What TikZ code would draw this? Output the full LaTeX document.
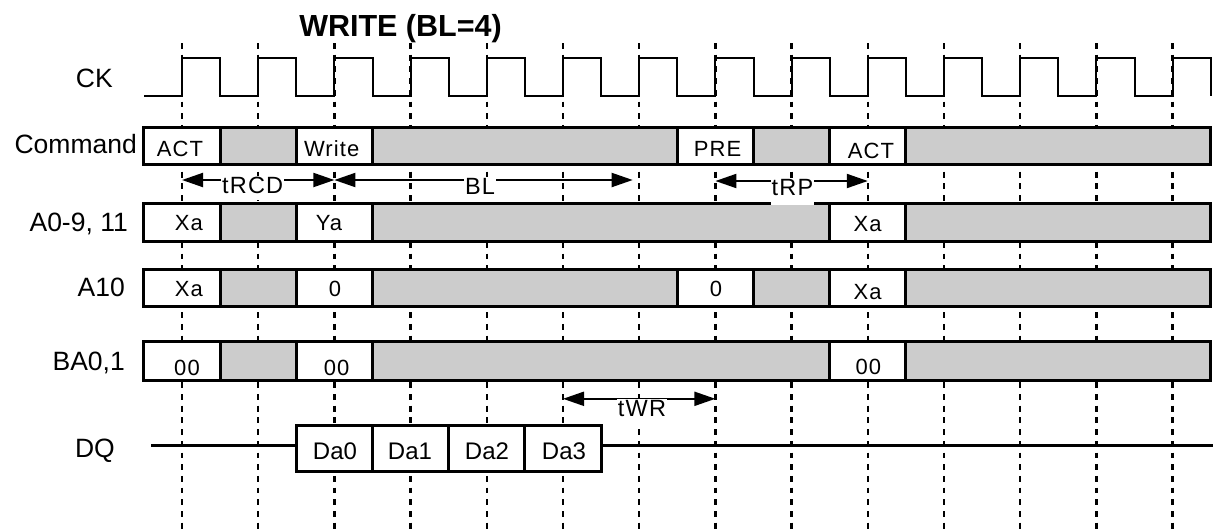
\documentclass[tikz,border=0pt]{standalone}
\usepackage{fontspec}
\setmainfont{Liberation Sans}
\newfontfamily\spacedfont[LetterSpace=5]{Liberation Sans}
\usetikzlibrary{arrows.meta}
\definecolor{cellgrey}{RGB}{204,204,204}
\tikzset{
  gridline/.style={black,line width=2.4pt,dash pattern=on 5.8pt off 5.9pt},
  clockline/.style={black,line width=2pt},
  dqline/.style={black,line width=3pt},
  cellbox/.style={draw=black,line width=3pt},
  rowlabel/.style={anchor=base east,inner sep=0pt,font=\fontsize{26.5}{30}\selectfont},
  celltext/.style={anchor=base,inner sep=0pt,font=\spacedfont\fontsize{22}{26}\selectfont},
  datatext/.style={anchor=base,inner sep=0pt,font=\fontsize{24}{28}\selectfont},
  timing/.style={black,line width=2pt,{Triangle[length=21pt,width=14pt]}-{Triangle[length=21pt,width=14pt]}},
  timelabel/.style={anchor=base,fill=white,inner sep=1pt,text depth=6pt,font=\spacedfont\fontsize{23.5}{26}\selectfont},
}
\begin{document}
\begin{tikzpicture}[x=1pt,y=-1pt]
\useasboundingbox (0,0) rectangle (1213,531);
\def\per{76.2}
% grid lines at the rising edges:
\foreach \k in {0,...,13}
  \draw[gridline] ({182+\k*\per},43) -- ({182+\k*\per},531);
% clock:
\draw[clockline] (144,96)
  \foreach \k in {0,...,13} {
    -- ({182+\k*\per},96) -- ({182+\k*\per},58)
    -- ({220.1+\k*\per},58) -- ({220.1+\k*\per},96)};
% title and row labels:
\node[anchor=base,inner sep=0pt,font=\bfseries\fontsize{30.5}{34}\selectfont] (title) at (400.5,36.7) {WRITE (BL=4)};
\node[rowlabel] (lab-ck) at (113,87.3) {CK};
\node[rowlabel] (lab-cmd) at (137,153) {Command};
\node[rowlabel] (lab-addr) at (128,231.7) {A0-9, 11};
\node[rowlabel] (lab-a10) at (125,296) {A10};
\node[rowlabel] (lab-ba) at (125,370) {BA0,1};
\node[rowlabel] (lab-dq) at (115,457) {DQ};
% bus rows:
\foreach \a/\b/\f in {0/1/white,1/2/cellgrey,2/3/white,3/7/cellgrey,7/8/white,8/9/cellgrey,9/10/white,10/14/cellgrey}
  \path[cellbox,fill=\f] ({143.9+\a*\per},127.7) rectangle ({143.9+\b*\per},164.2);
\foreach \a/\b/\f in {0/1/white,1/2/cellgrey,2/3/white,3/9/cellgrey,9/10/white,10/14/cellgrey}
  \path[cellbox,fill=\f] ({143.9+\a*\per},203.2) rectangle ({143.9+\b*\per},241.3);
\foreach \a/\b/\f in {0/1/white,1/2/cellgrey,2/3/white,3/7/cellgrey,7/8/white,8/9/cellgrey,9/10/white,10/14/cellgrey}
  \path[cellbox,fill=\f] ({143.9+\a*\per},269.2) rectangle ({143.9+\b*\per},306.3);
\foreach \a/\b/\f in {0/1/white,1/2/cellgrey,2/3/white,3/9/cellgrey,9/10/white,10/14/cellgrey}
  \path[cellbox,fill=\f] ({143.9+\a*\per},341.7) rectangle ({143.9+\b*\per},380.3);
% data line and burst:
\coordinate (dq-in) at (151,445.6);
\coordinate (dq-out) at (1213,445.6);
\draw[dqline] (dq-in) -- (dq-out);
\foreach \a in {2,...,5}
  \path[cellbox,fill=white] ({143.9+\a*\per},425) rectangle ({143.9+(\a+1)*\per},471);
% cell texts:
\node[celltext] (cmd-act) at (180,156) {ACT};
\node[celltext] (cmd-wr) at (331.7,156.7) {Write};
\node[celltext] (cmd-pre) at (717.5,156) {PRE};
\node[celltext] (cmd-act2) at (871,158.3) {ACT};
\node[celltext] (addr-xa) at (189,230.7) {Xa};
\node[celltext] (addr-ya) at (329,230.7) {Ya};
\node[celltext] (addr-xa2) at (867.5,231.7) {Xa};
\node[celltext] (a10-xa) at (189,296) {Xa};
\node[celltext] (a10-wr) at (335,296) {0};
\node[celltext] (a10-pre) at (716,296.7) {0};
\node[celltext] (a10-xa2) at (867.5,299.3) {Xa};
\node[celltext] (ba-act) at (187,375) {00};
\node[celltext] (ba-wr) at (336.7,375) {00};
\node[celltext] (ba-act2) at (868.3,374.3) {00};
\node[datatext] (dq-0) at (335,459) {Da0};
\node[datatext] (dq-1) at (410,459) {Da1};
\node[datatext] (dq-2) at (487,459) {Da2};
\node[datatext] (dq-3) at (564,459) {Da3};
% timing arrows:
\coordinate (rcd-l) at (182,180);
\coordinate (rcd-r) at (334.4,180);
\coordinate (bl-r) at (632.7,180);
\coordinate (rp-l) at (715.4,181);
\coordinate (rp-r) at (867.8,181);
\coordinate (wr-l) at (563,398.8);
\coordinate (wr-r) at (715.4,398.8);
\draw[timing] (rcd-l) -- (rcd-r);
\draw[timing] (rcd-r) -- (bl-r);
\draw[timing] (rp-l) -- (rp-r);
\draw[timing] (wr-l) -- (wr-r);
\node[timelabel] (trcd) at (252.7,193.3) {tRCD};
\node[timelabel] (tbl) at (480,194) {BL};
\node[timelabel,text depth=9pt] (trp) at (792.5,195) {tRP};
\node[timelabel] (twr) at (642,416) {tWR};
\end{tikzpicture}
\end{document}
